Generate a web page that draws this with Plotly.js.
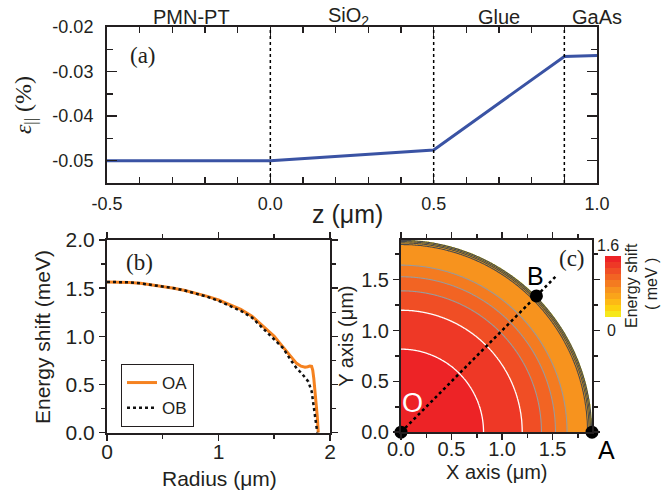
<!DOCTYPE html>
<html><head><meta charset="utf-8">
<script src="https://cdn.plot.ly/plotly-3.0.1.min.js"></script>
<style>html,body{margin:0;padding:0;background:#fff}#chart{width:669px;height:491px}</style>
</head><body><div id="chart"></div>
<script>
// ---------- Panel (a): in-plane strain vs z ----------
const zPos = [-0.5, 0.0, 0.5, 0.9, 1.0];
const strain = [-0.050, -0.050, -0.0476, -0.0266, -0.0264];
const interfaces = [0.0, 0.5, 0.9];
const layerNames = ['PMN-PT', 'SiO<sub>2</sub>', 'Glue', 'GaAs'];
const layerCenters = [-0.24, 0.24, 0.70, 1.0];
const zTickVals = [-0.5, 0.0, 0.5, 1.0];
const zTickText = ['-0.5', '0.0', '0.5', '1.0'];
const strainTickVals = [-0.05, -0.04, -0.03, -0.02];
const strainTickText = ['-0.05', '-0.04', '-0.03', '-0.02'];

// ---------- Panel (b): energy shift vs radius ----------
const radiusOA = [0, 0.1, 0.2, 0.3, 0.4, 0.5, 0.6, 0.7, 0.8, 0.9, 1.0, 1.1, 1.2, 1.3, 1.4, 1.5, 1.55, 1.6, 1.65, 1.7, 1.74, 1.776, 1.80, 1.82, 1.835, 1.845, 1.855, 1.865, 1.876, 1.886, 1.895];
const energyOA = [1.565, 1.565, 1.56, 1.55, 1.535, 1.52, 1.50, 1.475, 1.445, 1.415, 1.377, 1.33, 1.28, 1.21, 1.11, 1.0, 0.93, 0.86, 0.79, 0.72, 0.69, 0.679, 0.685, 0.693, 0.69, 0.65, 0.56, 0.44, 0.30, 0.166, 0.0];
const radiusOB = [0, 0.1, 0.2, 0.3, 0.4, 0.5, 0.6, 0.7, 0.8, 0.9, 1.0, 1.1, 1.2, 1.3, 1.4, 1.5, 1.581, 1.65, 1.701, 1.75, 1.806, 1.836, 1.856, 1.872, 1.886];
const energyOB = [1.565, 1.565, 1.56, 1.55, 1.535, 1.52, 1.50, 1.475, 1.445, 1.41, 1.37, 1.32, 1.265, 1.195, 1.085, 0.965, 0.876, 0.75, 0.669, 0.61, 0.53, 0.426, 0.27, 0.098, 0.0];

// ---------- Panel (c): map ----------
const levelStart = 0, levelEnd = 1.6, levelStep = 0.16;
const bandColors = ['#F6E81C', '#FDD00F', '#FDB915', '#FAA41A', '#F7931E', '#F47B20', '#F26423', '#F04E25', '#EE3826', '#ED2326'];
const pointNames = ['O', 'A', 'B'];
const pointX = [0, 1.89, 1.34];
const pointY = [0, 0, 1.34];
const lineOBx = [0, 1.53];
const lineOBy = [0, 1.53];
const mapExtent = 1.89;

const INK = '#231F20';
const SANS = 'Liberation Sans, Arial, sans-serif';
const SERIF = 'Liberation Serif, Times New Roman, serif';
const W = 669, H = 491;

function profileAt(r) {
  const n = radiusOA.length;
  if (r > radiusOA[n - 1]) return -1;
  for (let i = 1; i < n; i++) {
    if (r <= radiusOA[i]) {
      const t = (r - radiusOA[i - 1]) / (radiusOA[i] - radiusOA[i - 1]);
      return energyOA[i - 1] + t * (energyOA[i] - energyOA[i - 1]);
    }
  }
  return -1;
}
const N = 240;
const grid = [];
for (let i = 0; i < N; i++) grid.push(i * mapExtent / (N - 1));
const zMap = grid.map(yv => grid.map(xv => profileAt(Math.sqrt(xv * xv + yv * yv))));

// stepped colorscale for contour fill: bg (white) + 10 bands + above-top
const regionColors = ['#ffffff'].concat(bandColors, [bandColors[bandColors.length - 1]]);
const nr = regionColors.length - 1;
const fillScale = [];
regionColors.forEach((c, k) => {
  fillScale.push([Math.max(0, (k - 0.5) / nr), c]);
  fillScale.push([Math.min(1, (k + 0.5) / nr), c]);
});
const barScale = [];
bandColors.forEach((c, k) => {
  barScale.push([k / bandColors.length, c]);
  barScale.push([(k + 1) / bandColors.length, c]);
});

function contourLines(start, end, color, width) {
  return { type: 'contour', x: grid, y: grid, z: zMap, xaxis: 'x3', yaxis: 'y3', autocontour: false,
    contours: { start: start, end: end, size: levelStep, coloring: 'none' },
    line: { color: color, width: width }, showscale: false, showlegend: false, hoverinfo: 'skip' };
}

const traces = [
  { x: zPos, y: strain, xaxis: 'x', yaxis: 'y', mode: 'lines', line: { color: '#3A53A4', width: 3 }, showlegend: false, hoverinfo: 'skip' },
  { x: radiusOA, y: energyOA, xaxis: 'x2', yaxis: 'y2', mode: 'lines', name: 'OA', line: { color: '#F58220', width: 3 } },
  { x: radiusOB, y: energyOB, xaxis: 'x2', yaxis: 'y2', mode: 'lines', name: 'OB', line: { color: '#111', width: 2.5, dash: 'dot' } },
  { type: 'contour', x: grid, y: grid, z: zMap, xaxis: 'x3', yaxis: 'y3', autocontour: false,
    contours: { start: levelStart, end: levelEnd, size: levelStep, coloring: 'fill', showlines: false },
    colorscale: fillScale, showscale: false, showlegend: false, hoverinfo: 'skip' },
  contourLines(levelStep, 0.64, '#4a4a4a', 1.1),
  contourLines(0.80, 1.12, '#9a9a9a', 1.1),
  contourLines(1.28, 1.44, '#ffffff', 1.3),
  { x: lineOBx, y: lineOBy, xaxis: 'x3', yaxis: 'y3', mode: 'lines', line: { color: '#000', width: 2.5, dash: 'dot' }, showlegend: false, hoverinfo: 'skip' },
  { x: pointX, y: pointY, xaxis: 'x3', yaxis: 'y3', mode: 'markers', marker: { color: '#000', size: 13 }, cliponaxis: false, showlegend: false, hoverinfo: 'skip' },
  { x: [pointX[0]], y: [pointY[0]], xaxis: 'x3', yaxis: 'y3', mode: 'markers', showlegend: false, hoverinfo: 'skip',
    marker: { size: 0.1, opacity: 0, color: [levelStart], cmin: levelStart, cmax: levelEnd, colorscale: barScale, showscale: true,
      colorbar: { x: 605 / W, xanchor: 'left', xpad: 0, y: 1 - 286.5 / H, yanchor: 'middle', ypad: 0,
        len: 61, lenmode: 'pixels', thickness: 16, thicknessmode: 'pixels', outlinewidth: 0, showticklabels: false, ticks: '' } } }
];

function axBase(extra) {
  return Object.assign({
    showline: true, linecolor: INK, linewidth: 2, mirror: 'ticks', showgrid: false, zeroline: false,
    tickcolor: INK, tickwidth: 1.5, fixedrange: true,
    tickfont: { family: SANS, size: 20, color: INK }
  }, extra);
}

function paperText(text, px, py, size, opts) {
  return Object.assign({ text: text, xref: 'paper', yref: 'paper', x: px / W, y: 1 - py / H, showarrow: false,
    xanchor: 'center', yanchor: 'middle', font: { family: SANS, size: size, color: INK } }, opts || {});
}

const annotations = [];
layerNames.forEach((name, i) => annotations.push({
  text: name, xref: 'x', yref: 'paper', x: layerCenters[i], y: 1 - 17 / H, showarrow: false,
  font: { family: SANS, size: 20, color: INK }, xanchor: 'center', yanchor: 'middle'
}));
[['(a)', 143, 55], ['(b)', 139, 262], ['(c)', 572, 258]].forEach(p =>
  annotations.push(paperText(p[0], p[1], p[2], 23, { font: { family: SERIF, size: 23, color: INK } })));
// axis titles placed precisely
annotations.push(paperText('z (μm)', 347, 214, 25));
annotations.push(paperText('Energy shift (meV)', 42, 337, 21, { textangle: -90 }));
annotations.push(paperText('Radius (μm)', 219, 478, 21));
annotations.push(paperText('X axis (μm)', 497, 472, 20));
// point labels
annotations.push({ text: pointNames[0], xref: 'x3', yref: 'y3', x: 0.11, y: 0.29, showarrow: false,
  xanchor: 'center', yanchor: 'middle', font: { family: SANS, size: 27, color: '#fff' } });
annotations.push(paperText(pointNames[1], 606, 450, 25, { font: { family: SANS, size: 25, color: '#000' } }));
annotations.push({ text: pointNames[2], xref: 'x3', yref: 'y3', x: 1.333, y: 1.54, showarrow: false,
  xanchor: 'center', yanchor: 'middle', font: { family: SANS, size: 25, color: '#000' } });
// colorbar labels
annotations.push(paperText(levelEnd.toFixed(1), 608, 246, 16));
annotations.push(paperText(String(levelStart), 611, 330, 16));
annotations.push(paperText('Energy shift', 631, 286, 16, { textangle: -90 }));
annotations.push(paperText('( meV )', 651, 284, 16, { textangle: -90 }));

const shapes = interfaces.map(zv => ({
  type: 'line', xref: 'x', yref: 'y domain', x0: zv, x1: zv, y0: 0, y1: 1,
  line: { color: '#000', width: 1.5, dash: 'dot' }
}));

const layout = {
  width: W, height: H, margin: { l: 0, r: 0, t: 0, b: 0 },
  paper_bgcolor: '#fff', plot_bgcolor: 'rgba(0,0,0,0)',
  font: { family: SANS, color: INK },
  xaxis: axBase({ domain: [0.15994, 0.89238], anchor: 'y', range: [-0.5, 1.0], tickmode: 'array', tickvals: zTickVals, ticktext: zTickText,
    ticks: 'inside', ticklen: 10, ticklabelstandoff: 3, tickfont: { family: SANS, size: 18, color: INK },
    minor: { dtick: 0.1, ticks: 'inside', ticklen: 6, tickcolor: INK, tickwidth: 1.5 } }),
  yaxis: axBase({ domain: [0.62729, 0.94501], anchor: 'x', range: [-0.055, -0.02], tickmode: 'array', tickvals: strainTickVals, ticktext: strainTickText,
    ticks: 'inside', ticklen: 10, ticklabelstandoff: 8, tickfont: { family: SANS, size: 18, color: INK },
    minor: { dtick: 0.005, ticks: 'inside', ticklen: 6, tickcolor: INK, tickwidth: 1.5 },
    title: { text: '<i>ε</i><sub>||</sub> (%)', font: { family: SERIF, size: 24, color: INK }, standoff: 14 } }),
  xaxis2: axBase({ domain: [0.15994, 0.49327], anchor: 'y2', range: [0, 2], dtick: 1, tickformat: 'd',
    ticks: 'outside', ticklen: 6, ticklabelstandoff: -7, tickfont: { family: SANS, size: 21, color: INK },
    minor: { dtick: 0.5, ticks: 'outside', ticklen: 4, tickcolor: INK, tickwidth: 1.5 } }),
  yaxis2: axBase({ domain: [0.11874, 0.5112], anchor: 'x2', range: [0, 2], dtick: 0.5, tickformat: '.1f',
    ticks: 'outside', ticklen: 6, tickfont: { family: SANS, size: 21, color: INK },
    minor: { dtick: 0.25, ticks: 'outside', ticklen: 4, tickcolor: INK, tickwidth: 1.5 } }),
  xaxis3: axBase({ domain: [0.5994, 0.8849], anchor: 'y3', range: [0, mapExtent], dtick: 0.5, tickformat: '.1f',
    ticks: 'outside', ticklen: 6, ticklabelstandoff: -8,
    minor: { dtick: 0.25, ticks: 'outside', ticklen: 4, tickcolor: INK, tickwidth: 1.5 } }),
  yaxis3: axBase({ domain: [0.11976, 0.5112], anchor: 'x3', range: [0, mapExtent], dtick: 0.5, tickformat: '.1f',
    ticks: 'outside', ticklen: 6, minor: { dtick: 0.25, ticks: 'outside', ticklen: 4, tickcolor: INK, tickwidth: 1.5 },
    title: { text: 'Y axis (μm)', font: { family: SANS, size: 20, color: INK }, standoff: 2 } }),
  legend: { x: 121 / W, y: 1 - 364 / H, xanchor: 'left', yanchor: 'top', bgcolor: '#fff',
    bordercolor: INK, borderwidth: 1, font: { family: SANS, size: 17, color: INK }, tracegroupgap: 0 },
  showlegend: true,
  annotations: annotations,
  shapes: shapes
};

Plotly.newPlot('chart', traces, layout, { staticPlot: true, displayModeBar: false });
</script>
</body></html>
